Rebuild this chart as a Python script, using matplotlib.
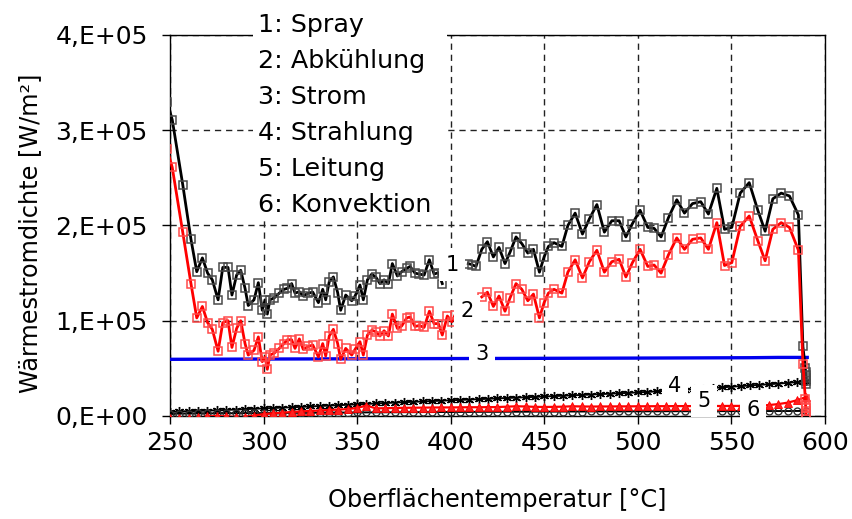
import numpy as np
import matplotlib
matplotlib.use('Agg')
import matplotlib.pyplot as plt
from matplotlib.patches import Rectangle

# ---------------- data (heat flux in 1E5 W/m^2 for series 1-3) ----------------
T12 = [248.5, 251.2, 256.8, 261.2, 264.3, 267.3, 270.1, 272.6, 275.7, 278.2,
       281.0, 283.1, 285.6, 287.8, 290.1, 291.8, 294.9, 297.2, 299.3, 300.8,
       302.0, 303.4, 305.7, 308.4, 310.9, 312.7, 315.0, 316.8, 319.1, 321.2,
       323.9, 326.3, 329.3, 331.6, 333.2, 335.1, 337.3, 339.6, 341.2, 343.9,
       347.1, 348.9, 351.5, 353.3, 355.5, 357.8, 360.1, 362.2, 364.4, 366.7,
       368.8, 371.5, 373.8, 376.5, 378.3, 380.9, 383.2, 385.8, 388.6, 391.1,
       393.4, 395.5, 398.2, 400.6, 402.3, 409.4, 411.2, 413.5, 416.6, 419.6,
       422.8, 425.8, 429.0, 431.7, 434.9, 438.0, 441.2, 444.2, 447.4, 449.9,
       452.2, 455.2, 459.4, 462.6, 466.5, 470.4, 474.1, 478.1, 482.1, 486.1,
       490.0, 493.6, 497.1, 501.2, 505.3, 508.7, 512.4, 516.3, 520.8, 524.9,
       529.2, 533.6, 537.7, 542.2, 546.3, 550.2, 554.7, 559.5, 564.1, 568.0,
       572.1, 576.6, 581.0, 585.8, 588.2, 589.5, 589.6, 589.7, 589.8, 589.9,
       590.0]
nan = float('nan')
Q_spray = [3.30, 3.11, 2.43, 1.855, 1.515, 1.66, 1.50, 1.43, 1.22, 1.56,
           1.56, 1.27, 1.48, 1.53, 1.34, 1.16, 1.22, 1.40, 1.11, 1.22,
           1.07, 1.22, 1.24, 1.29, 1.33, 1.34, 1.39, 1.29, 1.305, 1.26,
           1.29, 1.30, 1.19, 1.33, 1.22, 1.41, 1.46, 1.295, 1.11, 1.27,
           1.21, 1.26, 1.375, 1.22, 1.43, 1.49, 1.455, 1.39, 1.43, 1.39,
           1.60, 1.47, 1.515, 1.55, 1.57, 1.50, 1.49, 1.48, 1.64, 1.49,
           1.505, 1.39, nan, nan, nan, 1.60, 1.59, 1.57, 1.75, 1.83,
           1.67, 1.77, 1.60, 1.72, 1.88, 1.81, 1.71, 1.75, 1.51, 1.67,
           1.78, 1.82, 1.78, 2.00, 2.13, 1.91, 2.07, 2.22, 1.93, 2.05,
           2.05, 1.88, 2.02, 2.16, 1.98, 1.97, 1.88, 2.08, 2.27, 2.13,
           2.23, 2.25, 2.12, 2.39, 1.96, 1.98, 2.34, 2.45, 2.16, 1.94,
           2.28, 2.34, 2.31, 2.11, 0.73, 0.50, 0.46, 0.43, 0.40, 0.37,
           0.34]
Q_abk = [2.80, 2.61, 1.93, 1.39, 1.03, 1.15, 0.98, 0.91, 0.68, 0.98,
         1.00, 0.72, 0.92, 1.00, 0.76, 0.64, 0.69, 0.83, 0.57, 0.62,
         0.49, 0.64, 0.66, 0.71, 0.76, 0.80, 0.80, 0.71, 0.81, 0.70,
         0.73, 0.745, 0.62, 0.76, 0.63, 0.84, 0.91, 0.76, 0.595, 0.71,
         0.64, 0.70, 0.78, 0.64, 0.85, 0.90, 0.885, 0.84, 0.895, 0.84,
         1.07, 0.92, 0.945, 1.03, 1.04, 0.94, 0.95, 0.93, 1.10, 0.97,
         0.97, 0.85, 1.05, 0.99, 1.06, nan, nan, nan, 1.25, 1.30,
         1.15, 1.26, 1.10, 1.24, 1.39, 1.33, 1.21, 1.28, 1.03, 1.19,
         1.29, 1.33, 1.29, 1.51, 1.64, 1.45, 1.62, 1.74, 1.51, 1.62,
         1.645, 1.46, 1.61, 1.75, 1.57, 1.585, 1.50, 1.69, 1.87, 1.75,
         1.855, 1.87, 1.75, 2.03, 1.58, 1.61, 1.99, 2.10, 1.84, 1.63,
         1.96, 2.03, 1.98, 1.74, 0.55, 0.18, 0.12, 0.08, 0.05, 0.02,
         0.0]

T_strom = [248.5, 300.0, 400.0, 500.0, 560.0, 575.0, 590.5]
Q_strom = [0.595, 0.598, 0.603, 0.608, 0.612, 0.615, 0.615]

# series 4-6 in 1E3 W/m^2
T_low = list(range(250, 591, 5))
Q_strahl = [4.5, 4.8, 5.1, 5.4, 5.7, 6.0, 6.4, 6.8, 7.2, 7.6,
            8.0, 8.4, 8.8, 9.2, 9.6, 10.0, 10.5, 10.9, 11.4, 11.8,
            12.3, 12.7, 13.2, 13.6, 14.1, 14.5, 14.9, 15.3, 15.7, 16.1,
            16.5, 16.9, 17.3, 17.7, 18.1, 18.5, 18.9, 19.3, 19.7, 20.1,
            20.5, 20.9, 21.3, 21.7, 22.1, 22.5, 23.0, 23.4, 23.9, 24.3,
            24.8, 25.3, 25.9, 26.4, 27.0, 27.5, 28.2, 28.8, 29.5, 30.1,
            30.8, 31.4, 32.1, 32.7, 33.4, 34.0, 34.8, 35.6, 36.4]
Q_leit = [-2.0, -2.2, -2.0, -1.5, -0.5, 0.0, -0.5, -1.0, -1.0, 0.5,
          2.0, 2.8, 3.5, 4.2, 4.8, 5.3, 5.8, 6.3, 6.8, 7.2,
          8.5, 11.0, 8.0, 8.2, 8.4, 8.6, 8.7, 8.8, 8.9, 9.0,
          9.0, 9.1, 9.2, 9.2, 9.3, 9.4, 9.8, 10.2, 10.0, 9.6,
          9.5, 9.6, 9.8, 10.2, 10.0, 9.9, 10.0, 10.0, 10.1, 10.1,
          10.2, 10.2, 10.3, 10.3, 10.4, 10.4, 10.4, 10.5, 10.5, 10.5,
          10.6, 10.6, 10.7, 10.8, 11.5, 12.5, 14.0, 16.5, 20.0]
Q_konv = [2.5, 2.5, 2.6, 2.7, 2.7, 2.8, 2.9, 2.9, 3.0, 3.0,
          3.1, 3.2, 3.2, 3.3, 3.3, 3.4, 3.5, 3.5, 3.6, 3.6,
          3.7, 3.8, 3.8, 3.9, 3.9, 4.0, 4.0, 4.1, 4.1, 4.2,
          4.2, 4.3, 4.3, 4.4, 4.4, 4.4, 4.5, 4.5, 4.5, 4.6,
          4.6, 4.6, 4.7, 4.7, 4.7, 4.8, 4.8, 4.8, 4.8, 4.9,
          4.9, 4.9, 4.9, 5.0, 5.0, 5.0, 5.0, 5.0, 5.1, 5.1,
          5.1, 5.1, 5.1, 5.2, 5.2, 5.2, 5.2, 5.3, 5.3]

legend_lines = ["1: Spray", "2: Abkühlung", "3: Strom", "4: Strahlung",
                "5: Leitung", "6: Konvektion"]
curve_labels = ["1", "2", "3", "4", "5", "6"]
label_T = [400.7, 408.7, 416.8, 519.9, 535.4, 561.6]
label_Q = [1.59e5, 1.10e5, 0.65e5, 0.315e5, 0.16e5, 0.06e5]

x_ticks = [250, 300, 350, 400, 450, 500, 550, 600]
y_ticks = [0, 1e5, 2e5, 3e5, 4e5]
y_ticklabels = ["0,E+00", "1,E+05", "2,E+05", "3,E+05", "4,E+05"]

# ---------------- figure ----------------
plt.rcParams['font.family'] = ['DejaVu Sans']
W, H = 853, 519
fig = plt.figure(figsize=(W / 100, H / 100), dpi=100)
L, R, B, Tp = 170, 825, 416, 35
ax = fig.add_axes([L / W, 1 - B / H, (R - L) / W, (B - Tp) / H])

ax.set_xlim(250, 600)
ax.set_ylim(0, 4e5)
ax.set_xticks(x_ticks)
ax.set_yticks(y_ticks)
ax.set_yticklabels(y_ticklabels)
ax.tick_params(axis='both', direction='out', length=6, width=1,
               labelsize=18, color='black')
ax.tick_params(axis='y', pad=10)
ax.tick_params(axis='x', pad=5)
for s in ax.spines.values():
    s.set_linewidth(1.0)
    s.set_color('black')

ax.set_axisbelow(True)
ax.grid(True, color='#222222', linewidth=1.0, linestyle=(0, (4.5, 3.5)))

T12a = np.array(T12)
ax.plot(T12a, np.array(Q_spray) * 1e5, color='black', lw=2.0, marker='s',
        ms=5.5, mfc='none', mec='#4a4a4a', mew=1.1, zorder=6)
ax.plot(T12a, np.array(Q_abk) * 1e5, color='#ff0000', lw=2.0, marker='s',
        ms=5.5, mfc='none', mec='#ff4a4a', mew=1.1, zorder=6)
ax.plot(T_strom, np.array(Q_strom) * 1e5, color='#0000ee', lw=2.4, zorder=5)
ax.plot(T_low, np.array(Q_strahl) * 1e3, color='black', lw=1.4,
        marker=(6, 2, 0), ms=6.5, mew=1.0, mec='black', zorder=4)
ax.plot(T_low, np.array(Q_konv) * 1e3, color='black', lw=1.4, marker='o',
        ms=5, mfc='none', mec='#333333', mew=1.0, zorder=4)
ax.plot(T_low, np.array(Q_leit) * 1e3, color='#ff0000', lw=1.6, marker='^',
        ms=5.5, mfc='#ff2020', mec='#ff0000', mew=0.6, zorder=4.5)

for lab, tx, qy in zip(curve_labels, label_T, label_Q):
    ax.text(tx, qy, lab, ha='center', va='center', fontsize=15, zorder=20,
            bbox=dict(boxstyle='square,pad=0.3', fc='white', ec='none'))

# white legend box (covers grid and top spine)
fig.add_artist(Rectangle((253 / W, 1 - 220 / H), (447 - 253) / W, 220 / H,
                         transform=fig.transFigure, facecolor='white',
                         edgecolor='none', zorder=5))
baselines = [32, 68, 104, 140, 176, 212]
for txt, yb in zip(legend_lines, baselines):
    fig.text(258 / W, 1 - yb / H, txt, fontsize=18.3, ha='left',
             va='baseline', zorder=6)

fig.text(497.5 / W, 1 - 500 / H, "Oberflächentemperatur [°C]", fontsize=17.3,
         ha='center', va='center')
fig.text(30 / W, 1 - 233 / H, "Wärmestromdichte [W/m²]", fontsize=17.3,
         ha='center', va='center', rotation=90)

fig.savefig("out.png", dpi=100)
